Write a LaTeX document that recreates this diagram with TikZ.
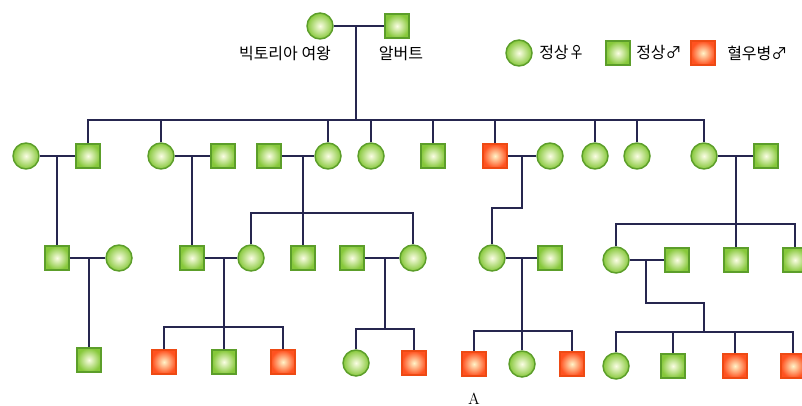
\documentclass[tikz,border=0pt]{standalone}
\usepackage{fontspec}
\newfontfamily\kr{Noto Sans CJK KR}
\definecolor{gin}{HTML}{FBFDE4}
\definecolor{gout}{HTML}{86C83A}
\definecolor{gbd}{HTML}{5C9E2A}
\definecolor{rin}{HTML}{FFF4C8}
\definecolor{rout}{HTML}{FF5220}
\definecolor{rbd}{HTML}{EE4A14}
\definecolor{lnc}{HTML}{26264F}
\begin{document}
\begin{tikzpicture}[x=0.75pt,y=-0.75pt,
  fem/.style={circle, minimum size=19.5pt, inner sep=0pt, draw=gbd, line width=1.1pt, shading=radial, inner color=gin, outer color=gout},
  mal/.style={rectangle, minimum size=18pt, inner sep=0pt, draw=gbd, line width=0.9pt, shading=radial, inner color=gin, outer color=gout},
  hem/.style={rectangle, minimum size=18pt, inner sep=0pt, draw=rbd, line width=0.9pt, shading=radial, inner color=rin, outer color=rout},
  ln/.style={draw=lnc, line width=1.4pt},
  txt/.style={font=\kr\fontsize{12}{14}\selectfont, inner sep=0pt}]
\useasboundingbox (0,0) rectangle (802,406);
\clip (0,0) rectangle (802,406);

% Generation I
\node[fem] (V) at (320,26) {};
\node[mal] (Al) at (397,26) {};
\node[txt] (lV) at (285,54) {빅토리아 여왕};
\node[txt] (lAl) at (401,54) {알버트};
\coordinate (j0) at (356,26);
\coordinate (s0) at (356,120);

% Legend
\node[fem] (L1) at (519,53) {};
\node[txt, anchor=west] (t1) at (539,53) {정상♀};
\node[mal] (L2) at (618,53) {};
\node[txt, anchor=west] (t2) at (636,53) {정상♂};
\node[hem] (L3) at (703,53) {};
\node[txt, anchor=west] (t3) at (727,53) {혈우병♂};

% Generation II
\node[fem] (a1) at (26,156) {};
\node[mal] (a2) at (88,156) {};
\node[fem] (b1) at (161,156) {};
\node[mal] (b2) at (223,156) {};
\node[mal] (c1) at (269,156) {};
\node[fem] (c2) at (328,156) {};
\node[fem] (d) at (371,156) {};
\node[mal] (e) at (433,156) {};
\node[hem] (f1) at (495,156) {};
\node[fem] (f2) at (550,156) {};
\node[fem] (g) at (595,156) {};
\node[fem] (h) at (637,156) {};
\node[fem] (i1) at (704,156) {};
\node[mal] (i2) at (766,156) {};
\coordinate (ja) at (57,156);
\coordinate (jb) at (192,156);
\coordinate (jc) at (303,156);
\coordinate (jf) at (522,156);
\coordinate (ji) at (736,156);

% Generation III
\node[mal] (A1) at (57,258) {};
\node[fem] (A2) at (119,258) {};
\node[mal] (B1) at (192,258) {};
\node[fem] (B2) at (251,258) {};
\node[mal] (C) at (303,258) {};
\node[mal] (D1) at (352,258) {};
\node[fem] (D2) at (413,258) {};
\node[fem] (F1) at (492,258) {};
\node[mal] (F2) at (550,258) {};
\node[fem] (I1) at (616,260) {};
\node[mal] (I2) at (677,260) {};
\node[mal] (I3) at (736,260) {};
\node[mal] (I4) at (795,260) {};
\coordinate (jA) at (89,258);
\coordinate (jB) at (224,258);
\coordinate (jD) at (385,258);
\coordinate (jF) at (522,258);
\coordinate (jI) at (646,260);
\coordinate (sC) at (303,213);
\coordinate (kf) at (522,208);
\coordinate (sI) at (736,224);

% Generation IV
\node[mal] (AA) at (89,360) {};
\node[hem] (BB1) at (164,362) {};
\node[mal] (BB2) at (224,362) {};
\node[hem] (BB3) at (283,362) {};
\node[fem] (DD1) at (356,363) {};
\node[hem] (DD2) at (414,363) {};
\node[hem] (FF1) at (474,364) {};
\node[fem] (FF2) at (522,364) {};
\node[hem] (FF3) at (572,364) {};
\node[fem] (II1) at (616,366) {};
\node[mal] (II2) at (673,366) {};
\node[hem] (II3) at (735,366) {};
\node[hem] (II4) at (793,366) {};
\coordinate (sB) at (224,327);
\coordinate (sD) at (385,329);
\coordinate (sF) at (522,331);
\coordinate (kI1) at (646,303);
\coordinate (kI2) at (704,303);
\coordinate (sI2) at (704,332);
\node[font=\fontsize{12}{14}\selectfont, inner sep=0pt] (lA) at (474,399) {A};

% Connectors
\draw[ln] (V) -- (Al);
\draw[ln] (j0) -- (s0);
\draw[ln] (a2) |- (s0) -| (i1);
\foreach \n in {b1,c2,d,e,f1,g,h} \draw[ln] (\n) -- (\n |- s0);

\draw[ln] (a1) -- (a2);
\draw[ln] (b1) -- (b2);
\draw[ln] (c1) -- (c2);
\draw[ln] (f1) -- (f2);
\draw[ln] (i1) -- (i2);

\draw[ln] (ja) -- (A1);
\draw[ln] (jb) -- (B1);
\draw[ln] (jc) -- (C);
\draw[ln] (B2) |- (sC) -| (D2);
\draw[ln] (jf) -- (kf) -| (F1);
\draw[ln] (ji) -- (I3);
\draw[ln] (I1) |- (sI) -| (I4);

\draw[ln] (A1) -- (A2);
\draw[ln] (B1) -- (B2);
\draw[ln] (D1) -- (D2);
\draw[ln] (F1) -- (F2);
\draw[ln] (I1) -- (I2);

\draw[ln] (jA) -- (AA);
\draw[ln] (jB) -- (BB2);
\draw[ln] (BB1) |- (sB) -| (BB3);
\draw[ln] (jD) -- (sD);
\draw[ln] (DD1) |- (sD) -| (DD2);
\draw[ln] (jF) -- (FF2);
\draw[ln] (FF1) |- (sF) -| (FF3);
\draw[ln] (jI) -- (kI1) -- (kI2) -- (sI2);
\draw[ln] (II1) |- (sI2) -| (II4);
\draw[ln] (II2) -- (II2 |- sI2);
\draw[ln] (II3) -- (II3 |- sI2);
\end{tikzpicture}
\end{document}
